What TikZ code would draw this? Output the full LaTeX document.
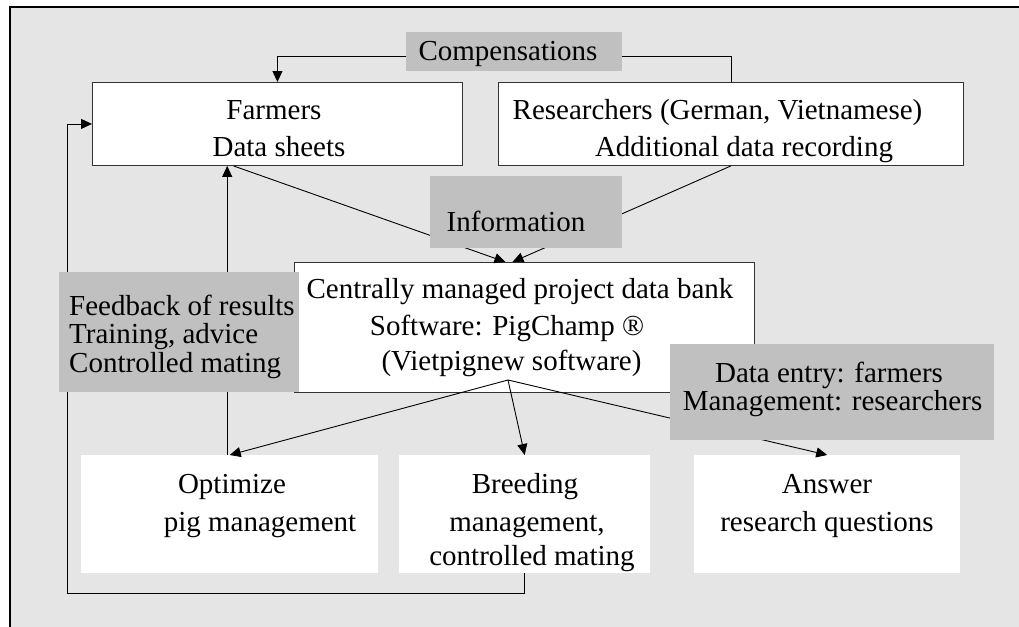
\documentclass[tikz,border=0pt]{standalone}
\usepackage{fontspec}
\setmainfont{Liberation Serif}
\usetikzlibrary{arrows.meta}
\definecolor{bgc}{HTML}{E5E5E5}
\definecolor{lbl}{HTML}{C0C0C0}
\begin{document}
\begin{tikzpicture}[x=1pt,y=-1pt,
  wbox/.style={draw=black!80, line width=0.9pt, fill=white, inner sep=0pt, anchor=north west},
  plain/.style={fill=white, inner sep=0pt, anchor=north west},
  gbox/.style={fill=lbl, inner sep=0pt, anchor=north west},
  txt/.style={anchor=base, inner sep=0pt, font=\fontsize{29}{34}\selectfont},
  ltxt/.style={txt, anchor=base west},
  conn/.style={line width=0.9pt, draw=black},
  arr/.style={conn, -{Triangle[length=11pt,width=10pt]}}]
\useasboundingbox (0,0) rectangle (1019,626);
\clip (0,0) rectangle (1019,626);
\fill[white] (0,0) rectangle (1019,626);
\fill[bgc] (10,7) rectangle (1040,650);
\draw[line width=1.8pt] (1040,7) -- (10,7) -- (10,650);

% white boxes
\node[wbox, minimum width=370pt, minimum height=83pt] (farmers) at (92,82) {};
\node[wbox, minimum width=465pt, minimum height=83pt] (research) at (498,82) {};
\node[wbox, minimum width=460pt, minimum height=130pt] (central) at (294,262) {};
\node[plain, minimum width=297pt, minimum height=118pt] (opt) at (81,455) {};
\node[plain, minimum width=251pt, minimum height=118pt] (breed) at (399,455) {};
\node[plain, minimum width=266pt, minimum height=118pt] (answer) at (694,455) {};
\coordinate (hub) at (508,380);

% connectors
\draw[arr] ([yshift=-4.5pt]410,51.5) coordinate (compw) -| (farmers.north);
\draw[conn] ([yshift=-4.5pt]618,51.5) coordinate (compe) -| (research.north);
\draw[arr] ([xshift=-44pt]farmers.south) -- ([xshift=-19pt]central.north);
\draw[arr] (research.south) -- ([xshift=-12pt]central.north);
\draw[arr] (hub) -- (opt.north);
\draw[arr] (hub) -- (breed.north);
\draw[arr] (hub) -- (answer.north);
\draw[arr] ([xshift=-2.5pt]opt.north) -- ([xshift=-2.5pt]opt.north |- farmers.south);
\draw[arr] (breed.south) -- ++(0,20) -| ([xshift=-25pt]farmers.west) -- (farmers.west);

% grey label boxes
\node[gbox, minimum width=216pt, minimum height=39pt] (comp) at (406,32) {};
\node[gbox, minimum width=192pt, minimum height=72pt] (info) at (430,176) {};
\node[gbox, minimum width=240pt, minimum height=120pt] (feed) at (59,272) {};
\node[gbox, minimum width=324pt, minimum height=96pt] (dentry) at (670,344) {};

% texts
\node[txt] (tfarm1) at (274,119.5) {Farmers};
\node[txt] (tfarm2) at (279,156) {Data sheets};
\node[txt] (tcomp) at (508,60) {Compensations};
\node[txt] (tres1) at (717.5,119.5) {Researchers (German, Vietnamese)};
\node[txt] (tres2) at (744,156) {Additional data recording};
\node[txt] (tinfo) at (516,231) {Information};
\node[txt] (tcen1) at (520,298) {Centrally managed project data bank};
\node[txt] (tcen2) at (507,335) {Software: PigChamp ®};
\node[txt] (tcen3) at (511.5,370) {(Vietpignew software)};
\node[ltxt] (tfb1) at (69,315) {Feedback of results};
\node[ltxt] (tfb2) at (69,343) {Training, advice};
\node[ltxt] (tfb3) at (69,372) {Controlled mating};
\node[txt] (tde1) at (829,382) {Data entry: farmers};
\node[txt] (tde2) at (832.5,410) {Management: researchers};
\node[txt] (topt1) at (232,493) {Optimize};
\node[txt] (topt2) at (260,531) {pig management};
\node[txt] (tbr1) at (525,493) {Breeding};
\node[txt] (tbr2) at (527,531) {management,};
\node[txt] (tbr3) at (532,565) {controlled mating};
\node[txt] (tans1) at (827,493) {Answer};
\node[txt] (tans2) at (827,531) {research questions};
\end{tikzpicture}
\end{document}
